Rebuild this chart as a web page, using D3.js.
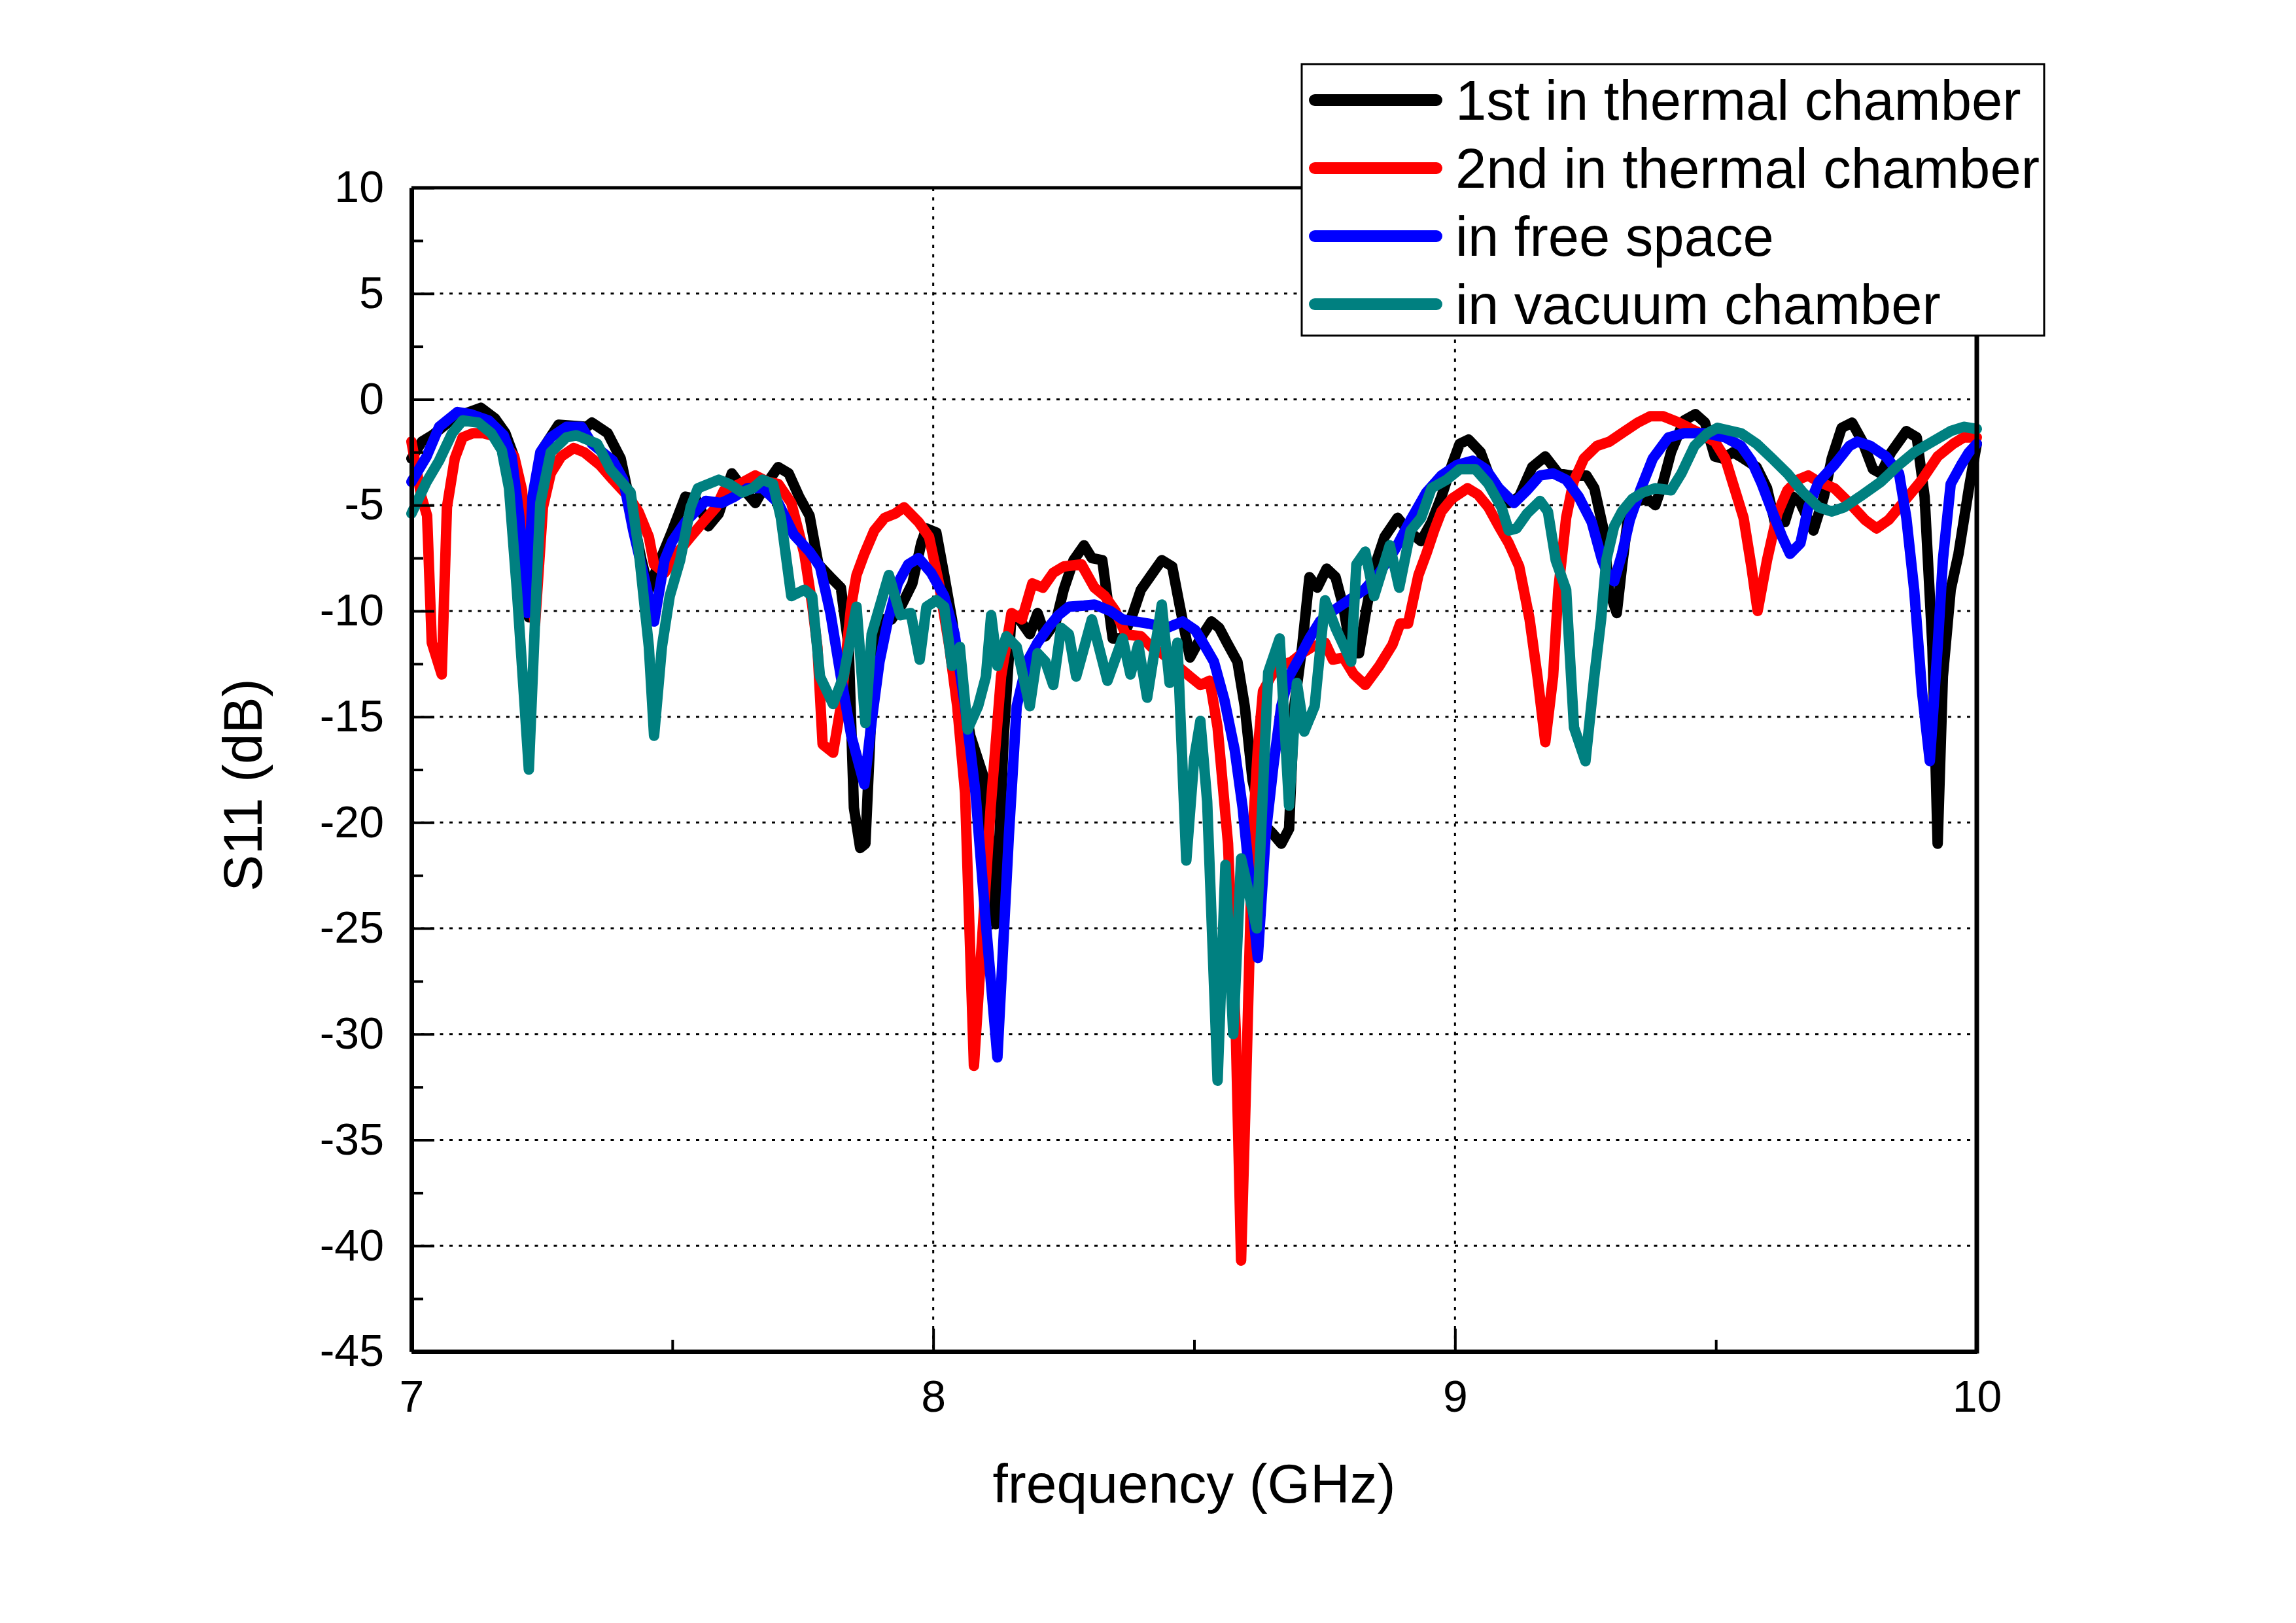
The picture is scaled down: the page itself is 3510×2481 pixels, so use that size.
<!DOCTYPE html>
<html>
<head>
<meta charset="utf-8">
<script src="https://cdn.jsdelivr.net/npm/d3@7"></script>
<style>
  body { margin: 0; background: #fff; }
  text { font-family: "Liberation Sans", Arial, sans-serif; fill: #000; }
</style>
</head>
<body>
<svg id="chart" width="3510" height="2481"></svg>
<script>
// series: frequency (GHz) and S11 (dB)
var freqFirst = [7.000,7.020,7.040,7.070,7.100,7.133,7.160,7.180,7.195,7.210,7.225,7.237,7.250,7.282,7.336,7.346,7.376,7.401,7.420,7.440,7.455,7.470,7.500,7.525,7.545,7.569,7.589,7.614,7.635,7.659,7.680,7.703,7.723,7.743,7.763,7.780,7.803,7.823,7.838,7.848,7.860,7.870,7.882,7.897,7.920,7.940,7.960,7.977,7.987,8.006,8.021,8.036,8.051,8.071,8.096,8.110,8.120,8.135,8.150,8.165,8.185,8.200,8.215,8.235,8.250,8.269,8.289,8.304,8.324,8.344,8.363,8.383,8.398,8.418,8.438,8.458,8.472,8.492,8.512,8.533,8.548,8.563,8.583,8.597,8.612,8.630,8.650,8.667,8.682,8.692,8.707,8.721,8.736,8.754,8.771,8.786,8.801,8.816,8.831,8.846,8.865,8.890,8.910,8.935,8.955,8.974,8.994,9.009,9.026,9.049,9.064,9.084,9.103,9.123,9.148,9.173,9.198,9.222,9.252,9.267,9.285,9.295,9.310,9.320,9.335,9.369,9.384,9.399,9.414,9.439,9.461,9.479,9.498,9.513,9.533,9.553,9.578,9.598,9.613,9.632,9.647,9.662,9.687,9.707,9.722,9.741,9.761,9.781,9.801,9.816,9.836,9.865,9.885,9.900,9.915,9.925,9.935,9.950,9.965,9.985,10.000];
var s11First = [-2.8,-2.0,-1.7,-1.1,-0.7,-0.4,-0.9,-1.6,-2.6,-6.0,-10.3,-5.5,-2.4,-1.2,-1.3,-1.1,-1.6,-2.8,-5.0,-7.5,-9.0,-8.0,-6.2,-4.6,-4.7,-6.0,-5.4,-3.5,-4.2,-4.9,-4.0,-3.2,-3.5,-4.6,-5.5,-7.8,-8.4,-8.9,-11.7,-19.3,-21.2,-21.0,-14.5,-10.4,-10.4,-9.7,-8.7,-6.8,-6.1,-6.3,-8.3,-10.4,-13.1,-15.9,-17.8,-21.5,-24.8,-16.0,-10.2,-10.4,-11.1,-10.1,-11.2,-10.5,-9.0,-7.6,-6.9,-7.5,-7.6,-11.3,-11.3,-10.1,-9.0,-8.3,-7.6,-7.9,-9.7,-12.2,-11.3,-10.5,-10.8,-11.5,-12.4,-14.5,-18.0,-20.0,-20.5,-21.0,-20.3,-14.5,-11.7,-8.4,-8.9,-8.0,-8.4,-9.8,-12.0,-12.0,-9.8,-7.9,-6.5,-5.6,-6.2,-6.7,-5.8,-4.6,-3.1,-2.1,-1.9,-2.5,-3.5,-4.4,-4.9,-4.6,-3.2,-2.7,-3.5,-3.6,-3.6,-4.2,-6.2,-9.0,-10.1,-7.9,-4.9,-4.7,-5.0,-3.9,-2.5,-1.0,-0.7,-1.1,-2.7,-2.8,-2.5,-2.8,-3.2,-4.2,-5.8,-5.8,-4.6,-4.9,-6.2,-4.6,-2.8,-1.35,-1.1,-2.0,-3.3,-3.5,-2.5,-1.5,-1.8,-4.6,-11.7,-21.0,-13.1,-9.0,-7.3,-4.2,-2.1];

var freqSecond = [7.000,7.019,7.030,7.039,7.058,7.068,7.083,7.098,7.118,7.138,7.168,7.197,7.212,7.222,7.237,7.252,7.267,7.287,7.311,7.331,7.361,7.386,7.416,7.435,7.455,7.465,7.485,7.515,7.535,7.559,7.584,7.599,7.629,7.659,7.683,7.703,7.728,7.753,7.768,7.778,7.788,7.808,7.823,7.843,7.853,7.868,7.887,7.907,7.927,7.944,7.972,7.992,8.011,8.031,8.046,8.061,8.078,8.095,8.110,8.130,8.150,8.170,8.190,8.210,8.230,8.250,8.284,8.309,8.329,8.349,8.369,8.398,8.418,8.438,8.468,8.492,8.512,8.530,8.545,8.565,8.580,8.590,8.600,8.612,8.622,8.632,8.647,8.662,8.687,8.707,8.726,8.751,8.766,8.786,8.806,8.828,8.855,8.880,8.895,8.910,8.930,8.945,8.960,8.974,8.994,9.024,9.044,9.064,9.084,9.103,9.123,9.143,9.158,9.173,9.188,9.198,9.213,9.227,9.247,9.272,9.296,9.320,9.350,9.374,9.399,9.429,9.469,9.498,9.518,9.533,9.553,9.568,9.580,9.598,9.618,9.637,9.657,9.677,9.697,9.727,9.756,9.786,9.808,9.831,9.865,9.895,9.925,9.955,9.975,10.000];
var s11Second = [-2.0,-4.6,-5.5,-11.5,-13.0,-5.1,-2.8,-1.8,-1.6,-1.6,-1.8,-2.7,-4.3,-8.3,-10.6,-5.1,-3.5,-2.7,-2.3,-2.5,-3.1,-3.8,-4.6,-5.3,-6.5,-7.8,-8.2,-7.1,-6.5,-5.8,-5.1,-4.3,-4.0,-3.6,-3.9,-4.0,-4.9,-7.3,-9.7,-11.7,-16.3,-16.7,-14.5,-9.7,-8.3,-7.3,-6.2,-5.6,-5.4,-5.1,-5.8,-6.5,-8.7,-11.7,-14.5,-18.6,-31.5,-25.0,-19.3,-13.1,-10.1,-10.4,-8.7,-8.9,-8.2,-7.9,-7.8,-8.9,-9.3,-10.0,-11.1,-11.2,-11.7,-12.0,-12.6,-13.1,-13.5,-13.3,-15.5,-21.0,-30.0,-40.7,-32.0,-20.6,-16.6,-13.8,-13.1,-12.6,-12.4,-12.0,-11.7,-11.5,-12.3,-12.2,-13.0,-13.5,-12.6,-11.6,-10.6,-10.6,-8.3,-7.3,-6.2,-5.3,-4.7,-4.2,-4.5,-5.1,-6.0,-6.8,-7.9,-10.4,-13.1,-16.2,-13.1,-9.0,-5.6,-3.9,-2.8,-2.2,-2.0,-1.6,-1.1,-0.8,-0.8,-1.1,-1.6,-2.0,-2.8,-4.0,-5.6,-7.9,-10.0,-7.6,-5.4,-4.3,-3.8,-3.6,-3.9,-4.2,-4.9,-5.7,-6.1,-5.7,-4.7,-3.8,-2.7,-2.1,-1.8,-1.8];

var freqFree = [7.000,7.029,7.053,7.088,7.113,7.148,7.177,7.192,7.207,7.222,7.232,7.247,7.267,7.297,7.326,7.346,7.386,7.406,7.425,7.445,7.465,7.485,7.500,7.525,7.564,7.594,7.619,7.644,7.673,7.703,7.733,7.763,7.783,7.803,7.823,7.843,7.868,7.882,7.897,7.912,7.932,7.952,7.972,7.996,8.021,8.041,8.061,8.081,8.100,8.123,8.145,8.160,8.180,8.200,8.220,8.240,8.260,8.289,8.309,8.339,8.363,8.388,8.413,8.448,8.478,8.502,8.517,8.538,8.558,8.578,8.593,8.608,8.622,8.637,8.652,8.667,8.682,8.702,8.721,8.741,8.766,8.796,8.826,8.855,8.885,8.915,8.945,8.974,9.004,9.034,9.059,9.084,9.113,9.138,9.163,9.188,9.213,9.237,9.262,9.282,9.295,9.305,9.320,9.335,9.355,9.379,9.409,9.439,9.479,9.518,9.548,9.568,9.588,9.608,9.627,9.642,9.662,9.677,9.697,9.727,9.756,9.771,9.796,9.826,9.851,9.865,9.880,9.895,9.910,9.925,9.935,9.950,9.970,9.985,10.000];
var s11Free = [-3.9,-2.7,-1.3,-0.6,-0.7,-1.0,-1.7,-2.7,-5.6,-10.1,-4.6,-2.5,-1.8,-1.3,-1.3,-2.1,-2.9,-3.8,-6.2,-8.3,-10.5,-7.6,-6.7,-5.8,-4.8,-4.9,-4.6,-4.2,-4.2,-4.9,-6.4,-7.2,-7.9,-10.1,-13.1,-15.9,-18.2,-15.2,-12.4,-10.6,-8.7,-7.8,-7.5,-8.2,-9.3,-11.1,-14.5,-18.6,-24.5,-31.1,-20.6,-14.5,-12.4,-11.5,-10.8,-10.2,-9.8,-9.75,-9.7,-10.0,-10.4,-10.5,-10.6,-10.8,-10.5,-10.9,-11.5,-12.4,-14.2,-16.6,-19.3,-23.0,-26.4,-20.6,-17.3,-14.5,-13.1,-12.2,-11.3,-10.5,-10.0,-9.5,-9.0,-8.2,-7.1,-5.7,-4.4,-3.6,-3.1,-2.9,-3.3,-4.2,-4.9,-4.3,-3.6,-3.5,-3.8,-4.6,-5.8,-7.6,-8.4,-8.6,-7.3,-5.7,-4.3,-2.8,-1.8,-1.6,-1.6,-1.8,-2.2,-2.9,-4.0,-5.3,-6.5,-7.3,-6.8,-5.1,-3.9,-3.1,-2.2,-2.0,-2.2,-2.7,-3.5,-5.6,-9.0,-13.8,-17.1,-11.7,-7.6,-4.0,-3.1,-2.5,-2.1];

var freqVacuum = [7.000,7.029,7.053,7.078,7.098,7.128,7.153,7.173,7.187,7.202,7.217,7.225,7.237,7.247,7.267,7.297,7.316,7.356,7.381,7.420,7.435,7.455,7.465,7.480,7.495,7.515,7.535,7.549,7.589,7.609,7.634,7.654,7.673,7.693,7.708,7.728,7.753,7.768,7.783,7.808,7.828,7.853,7.870,7.882,7.915,7.937,7.957,7.974,7.987,8.006,8.021,8.036,8.051,8.066,8.086,8.101,8.111,8.123,8.140,8.160,8.185,8.200,8.215,8.230,8.245,8.260,8.274,8.304,8.334,8.363,8.378,8.393,8.410,8.438,8.453,8.468,8.485,8.500,8.512,8.525,8.545,8.560,8.575,8.590,8.620,8.642,8.664,8.682,8.697,8.711,8.731,8.751,8.771,8.801,8.811,8.828,8.845,8.875,8.893,8.915,8.935,8.955,8.984,9.009,9.039,9.064,9.089,9.103,9.118,9.138,9.163,9.178,9.193,9.213,9.228,9.250,9.267,9.280,9.290,9.305,9.320,9.340,9.360,9.384,9.414,9.434,9.459,9.484,9.503,9.548,9.578,9.608,9.637,9.667,9.697,9.722,9.746,9.776,9.816,9.846,9.880,9.915,9.950,9.975,10.000];
var s11Vacuum = [-5.4,-3.9,-2.9,-1.6,-1.0,-1.1,-1.6,-2.4,-4.2,-9.0,-14.5,-17.5,-10.4,-4.9,-2.5,-1.8,-1.7,-2.1,-3.3,-4.4,-7.0,-11.7,-15.9,-11.7,-9.3,-7.6,-5.1,-4.2,-3.8,-4.0,-4.4,-4.2,-3.8,-4.0,-5.6,-9.3,-9.0,-9.3,-13.1,-14.4,-13.1,-9.8,-15.3,-11.1,-8.3,-10.2,-10.1,-12.3,-9.8,-9.5,-9.8,-12.6,-11.7,-15.6,-14.5,-13.1,-10.2,-12.6,-11.2,-11.7,-14.5,-12.0,-12.4,-13.5,-10.8,-11.1,-13.1,-10.4,-13.3,-11.3,-13.0,-11.6,-14.1,-9.7,-13.4,-11.5,-21.8,-17.0,-15.2,-19.0,-32.2,-22.0,-30.0,-21.7,-25.0,-12.9,-11.3,-19.2,-13.4,-15.7,-14.5,-9.5,-10.8,-12.4,-7.8,-7.2,-9.3,-6.9,-8.9,-6.2,-5.6,-4.2,-3.8,-3.3,-3.3,-4.0,-5.1,-6.2,-6.1,-5.4,-4.8,-5.3,-7.6,-9.0,-15.5,-17.1,-13.1,-10.4,-7.6,-6.0,-5.3,-4.7,-4.4,-4.2,-4.3,-3.5,-2.2,-1.6,-1.35,-1.6,-2.1,-2.8,-3.5,-4.4,-5.1,-5.3,-5.1,-4.6,-3.9,-3.2,-2.5,-2.0,-1.5,-1.3,-1.4];

var seriesNames = ["1st in thermal chamber", "2nd in thermal chamber", "in free space", "in vacuum chamber"];
var seriesColors = ["#000000", "#ff0000", "#0000ff", "#008080"];
var xTicks = [7, 8, 9, 10];
var xMinor = [7.5, 8.5, 9.5];
var yTicks = [10, 5, 0, -5, -10, -15, -20, -25, -30, -35, -40, -45];
var yMinor = [7.5, 2.5, -2.5, -7.5, -12.5, -17.5, -22.5, -27.5, -32.5, -37.5, -42.5];

var series = [
  d3.zip(freqFirst, s11First),
  d3.zip(freqSecond, s11Second),
  d3.zip(freqFree, s11Free),
  d3.zip(freqVacuum, s11Vacuum)
];

var svg = d3.select("#chart");
var plotLeft = 629, plotRight = 3022, plotTop = 287, plotBottom = 2066;

var x = d3.scaleLinear().domain([7, 10]).range([plotLeft, plotRight]);
var y = d3.scaleLinear().domain([-45, 10]).range([plotBottom, plotTop]);

// dotted grid
svg.append("g").selectAll("line")
  .data(yTicks.filter(function(t) { return t < 10 && t > -45; }))
  .enter().append("line")
  .attr("x1", plotLeft).attr("x2", plotRight)
  .attr("y1", d => y(d)).attr("y2", d => y(d))
  .attr("stroke", "#000").attr("stroke-width", 3)
  .attr("stroke-dasharray", "5 9.5");

svg.append("g").selectAll("line")
  .data(xTicks.filter(function(t) { return t > 7 && t < 10; }))
  .enter().append("line")
  .attr("x1", d => x(d)).attr("x2", d => x(d))
  .attr("y1", plotTop).attr("y2", plotBottom)
  .attr("stroke", "#000").attr("stroke-width", 3)
  .attr("stroke-dasharray", "5 9.5");

// curves
var line = d3.line()
  .x(d => x(d[0]))
  .y(d => y(d[1]));

svg.append("g").selectAll("path")
  .data(series)
  .enter().append("path")
  .attr("d", line)
  .attr("fill", "none")
  .attr("stroke", (d, i) => seriesColors[i])
  .attr("stroke-width", 16)
  .attr("stroke-linejoin", "round")
  .attr("stroke-linecap", "round");

// axes, ticks pointing inward; plain hyphen for negatives like the original
var yAxis = d3.axisLeft(y).tickValues(yTicks).tickSizeInner(-35).tickSizeOuter(0).tickPadding(42)
  .tickFormat(d => String(d));
var yAxisMinor = d3.axisLeft(y).tickValues(yMinor).tickSizeInner(-18).tickSizeOuter(0).tickFormat("");
var xAxis = d3.axisBottom(x).tickValues(xTicks).tickSizeInner(-35).tickSizeOuter(0).tickPadding(44)
  .tickFormat(d => String(d));
var xAxisMinor = d3.axisBottom(x).tickValues(xMinor).tickSizeInner(-18).tickSizeOuter(0).tickFormat("");

var gy = svg.append("g").attr("transform", "translate(" + plotLeft + ",0)").call(yAxis);
svg.append("g").attr("transform", "translate(" + plotLeft + ",0)").call(yAxisMinor);
var gx = svg.append("g").attr("transform", "translate(0," + plotBottom + ")").call(xAxis);
svg.append("g").attr("transform", "translate(0," + plotBottom + ")").call(xAxisMinor);

svg.selectAll(".domain").attr("stroke", "#000").attr("stroke-width", 7);
svg.selectAll(".tick line").attr("stroke", "#000").attr("stroke-width", 4);
gy.selectAll("text").style("font-size", "68px").style("font-family", "Liberation Sans, Arial, sans-serif");
gx.selectAll("text").style("font-size", "68px").style("font-family", "Liberation Sans, Arial, sans-serif");

// top and right frame
svg.append("line").attr("x1", plotLeft).attr("x2", plotRight).attr("y1", plotTop).attr("y2", plotTop)
  .attr("stroke", "#000").attr("stroke-width", 5);
svg.append("line").attr("x1", plotRight).attr("x2", plotRight).attr("y1", plotTop - 2).attr("y2", plotBottom + 3)
  .attr("stroke", "#000").attr("stroke-width", 7);

// axis titles
svg.append("text")
  .attr("x", (plotLeft + plotRight) / 2).attr("y", 2297)
  .attr("text-anchor", "middle")
  .style("font-size", "84px")
  .text("frequency (GHz)");

svg.append("text")
  .attr("transform", "translate(400,1200) rotate(-90)")
  .attr("text-anchor", "middle")
  .style("font-size", "84px")
  .text("S11 (dB)");

// legend
var legend = svg.append("g");
legend.append("rect")
  .attr("x", 1990).attr("y", 98).attr("width", 1135).attr("height", 415)
  .attr("fill", "#fff").attr("stroke", "#000").attr("stroke-width", 3);

var items = legend.selectAll("g")
  .data(seriesNames)
  .enter().append("g")
  .attr("transform", (d, i) => "translate(0," + (i * 104) + ")");

items.append("line")
  .attr("x1", 2010).attr("x2", 2196)
  .attr("y1", 153).attr("y2", 153)
  .attr("stroke", (d, i) => seriesColors[i])
  .attr("stroke-width", 18)
  .attr("stroke-linecap", "round");

items.append("text")
  .attr("x", 2225).attr("y", 183)
  .style("font-size", "85px")
  .text(d => d);
</script>
</body>
</html>
